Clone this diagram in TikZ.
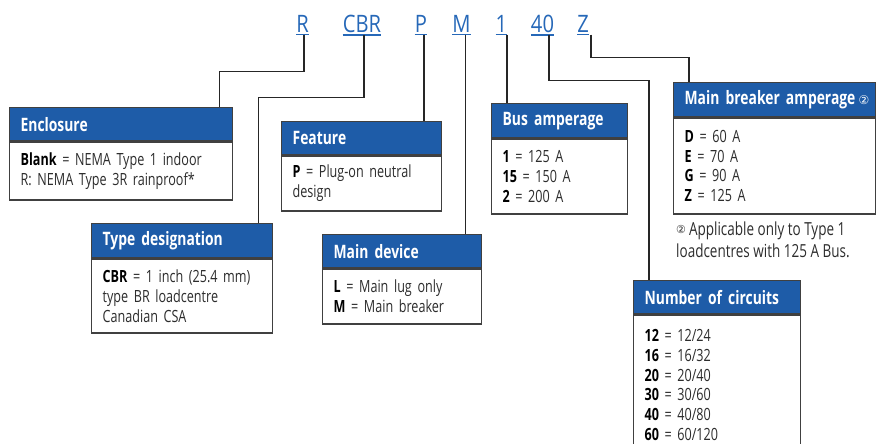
\documentclass[tikz,border=0pt]{standalone}
\usepackage{fontspec}
\setmainfont{Open Sans}[FakeStretch=0.75]
\newfontfamily\codefont{Open Sans}[FakeStretch=0.84]
\newfontfamily\symfont{DejaVu Sans}
\usetikzlibrary{positioning}
\definecolor{hdblue}{RGB}{30,92,168}
\definecolor{codeblue}{RGB}{38,104,184}
\definecolor{edge}{RGB}{64,64,64}
\definecolor{bodytext}{RGB}{45,45,45}
\tikzset{
  code/.style={text=codeblue, font=\codefont\fontsize{24}{24}\selectfont, inner sep=0pt, anchor=base},
  uline/.style={codeblue, line width=1.2pt},
  hdr/.style={draw=edge, fill=hdblue, text=white, line width=1.3pt, font=\bfseries\fontsize{18.5}{20}\selectfont, anchor=north west, inner xsep=11pt, minimum height=33pt, align=left},
  bdy/.style={draw=edge, fill=white, text=bodytext, line width=1.3pt, font=\fontsize{16.8}{19.8}\selectfont, anchor=north west, inner xsep=11pt, align=left},
  note/.style={text=bodytext, font=\fontsize{18}{22}\selectfont, anchor=north west, inner sep=0pt, align=left},
  link/.style={line width=1.1pt, black!85}
}
\newcommand{\key}[1]{\textbf{\color{black}#1}}
\newcommand{\circtwo}[1][12]{{\symfont\mdseries\fontsize{#1}{#1}\selectfont ②}}
\begin{document}
\begin{tikzpicture}[x=1pt, y=-1pt]
  \useasboundingbox (0,0) rectangle (876,444);
  \clip (0,0) rectangle (876,444);

  % catalogue number
  \node[code] (r) at (302.5,33) {R};
  \node[code] (cbr) at (362,33) {CBR};
  \node[code] (p) at (421,33) {P};
  \node[code] (m) at (461.5,33) {M};
  \node[code] (one) at (501.5,33) {1};
  \node[code] (forty) at (542.5,33) {40};
  \node[code] (z) at (583,33) {Z};
  \foreach \n in {r,cbr,p,m,one,forty,z}
    \draw[uline] ([yshift=-1.5pt]\n.south west) -- ([yshift=-1.5pt]\n.south east);

  % boxes
  \node[hdr, text width=201pt] (enchd) at (9,107) {Enclosure};
  \node[bdy, text width=201pt, minimum height=58pt] (encbd) at (enchd.south west)
    {\key{Blank} = NEMA Type 1 indoor\\R: NEMA Type 3R rainproof*};

  \node[hdr, text width=159pt, minimum height=34pt] (tdhd) at (91,223) {Type designation};
  \node[bdy, text width=159pt, minimum height=74pt] (tdbd) at (tdhd.south west)
    {\key{CBR} = 1 inch (25.4 mm)\\type BR loadcentre\\Canadian CSA};

  \node[hdr, text width=138pt] (fthd) at (281,121) {Feature};
  \node[bdy, text width=138pt, minimum height=55pt] (ftbd) at (fthd.south west)
    {\key{P} = Plug-on neutral\\design};

  \node[hdr, text width=137pt] (mdhd) at (322,234) {Main device};
  \node[bdy, text width=137pt, minimum height=55pt] (mdbd) at (mdhd.south west)
    {\key{L} = Main lug only\\\key{M} = Main breaker};

  \node[hdr, text width=114pt, minimum height=34pt] (bahd) at (491,103) {Bus amperage};
  \node[bdy, text width=114pt, minimum height=75pt] (babd) at (bahd.south west)
    {\key{1} = 125 A\\\key{15} = 150 A\\\key{2} = 200 A};

  \node[hdr, text width=180pt, minimum height=34pt] (mbhd) at (673,82)
    {\makebox[180pt][l]{Main breaker amperage\,\circtwo}};
  \node[bdy, text width=180pt, minimum height=96pt] (mbbd) at (mbhd.south west)
    {\key{D} = 60 A\\\key{E} = 70 A\\\key{G} = 90 A\\\key{Z} = 125 A};
  \node[note] (fn) at ([xshift=3pt,yshift=-7pt]mbbd.south west)
    {\raisebox{1.5pt}{\circtwo[11]}\,Applicable only to Type 1\\loadcentres with 125 A Bus.};

  \node[hdr, text width=145pt] (nchd) at (633,280) {Number of circuits};
  \node[bdy, text width=145pt, minimum height=140pt] (ncbd) at (nchd.south west)
    {\key{12} = 12/24\\\key{16} = 16/32\\\key{20} = 20/40\\\key{30} = 30/60\\\key{40} = 40/80\\\key{60} = 60/120};

  % links
  \draw[link] ([xshift=1.5pt,yshift=-1.5pt]r.south) -- ++(0,37) -| ([xshift=-14pt]enchd.north east);
  \draw[link] ([xshift=2pt,yshift=-1.5pt]cbr.south) -- ++(0,63) -| ([xshift=-15pt]tdhd.north east);
  \draw[link] ([xshift=3pt,yshift=-1.5pt]p.south) -- ([xshift=3pt]p.south |- fthd.north);
  \draw[link] ([xshift=4pt,yshift=-1.5pt]m.south) -- ([xshift=4pt]m.south |- mdhd.north);
  \draw[link] ([xshift=5.5pt,yshift=-1.5pt]one.south) -- ([xshift=5.5pt]one.south |- bahd.north);
  \draw[link] ([xshift=6.5pt,yshift=-1.5pt]forty.south) -- ++(0,46) -| ([xshift=16pt]nchd.north west);
  \draw[link] ([xshift=8pt,yshift=-1.5pt]z.south) -- ++(0,23) -| ([xshift=16pt]mbhd.north west);
\end{tikzpicture}
\end{document}
